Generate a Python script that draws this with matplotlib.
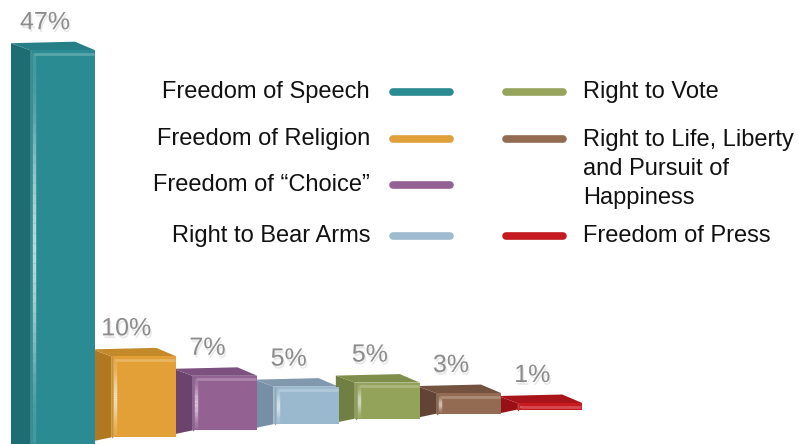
"""3D-style bar chart: most valued freedoms."""

import numpy as np
import matplotlib.pyplot as plt
import matplotlib.patheffects as pe
from matplotlib.patches import Polygon
from matplotlib.collections import LineCollection
from matplotlib.colors import to_rgb

plt.rcParams["font.family"] = ["Liberation Sans", "DejaVu Sans"]

categories = ["Freedom of Speech", "Freedom of Religion", "Freedom of \u201cChoice\u201d",
              "Right to Bear Arms", "Right to Vote",
              "Right to Life, Liberty\nand Pursuit of\nHappiness", "Freedom of Press"]
values = [47, 10, 7, 5, 5, 3, 1]

FRONT = ["#2a8b92", "#e2a037", "#946193", "#9ab9cf", "#94a35a", "#936b52", "#c8191f"]
SIDE = ["#1e6d73", "#b07820", "#6c436e", "#7590a6", "#707f42", "#634434", "#981016"]
TOP = ["#267f86", "#c48a2a", "#7c5180", "#8199ae", "#7f8e4b", "#73523f", "#a8141a"]
LEGEND = ["#2a8b92", "#e0a03a", "#946193", "#9fbbd0", "#97a55c", "#936b52", "#c41a20"]
LABEL_GRAY = "#8c8c8c"

W, H = 799, 444
fig = plt.figure(figsize=(W / 100, H / 100), dpi=100)
ax = fig.add_axes([0, 0, 1, 1])
ax.set_xlim(0, W)
ax.set_ylim(0, H)
ax.axis("off")


def lighten(c, f):
    r = np.array(to_rgb(c))
    return tuple(r + (1 - r) * f)


# --- bars (fake perspective: baseline rises and scale shrinks to the right) ---
bar_w = 65
for i, v in enumerate(values):
    x0 = 30 + 81.2 * i
    base = -1 + 8 * i - 0.35 * i ** 2
    h = v * (8.4 - 0.3 * i)
    top = base + h

    ax.bar(x0, h, width=bar_w, bottom=base, align="edge", color=FRONT[i],
           edgecolor="none", zorder=3)
    side = Polygon([(x0, base), (x0, top), (x0 - 19, top + 7), (x0 - 19, base - 4)],
                   closed=True, facecolor=SIDE[i], edgecolor="none", zorder=2)
    ax.add_patch(side)
    lid = Polygon([(x0, top), (x0 + bar_w, top), (x0 + bar_w - 20, top + 8.5),
                   (x0 - 19, top + 7)],
                  closed=True, facecolor=TOP[i], edgecolor="none", zorder=2)
    ax.add_patch(lid)

    # bevel highlights on the front face
    ys = np.linspace(base + 2, top - 3, 40)
    segs = [[(x0 + 4, ys[k]), (x0 + 4, ys[k + 1])] for k in range(len(ys) - 1)]
    t = np.linspace(0, 1, len(segs))
    alphas = 0.12 + 0.55 * np.sin(np.pi * t) ** 2
    cols = [(1, 1, 1, a) for a in alphas]
    ax.add_collection(LineCollection(segs, colors=cols, linewidths=2.5, zorder=4))
    ax.plot([x0 + 4, x0 + bar_w - 1], [top - 3.5, top - 3.5],
            color=lighten(FRONT[i], 0.22), lw=2, zorder=4, solid_capstyle="butt")
    ax.plot([x0 + 1, x0 + 1], [base, top], color=lighten(SIDE[i], 0.2), lw=1,
            zorder=4)

    ax.text(x0 + 15, top + 28, f"{v}%", ha="center", va="center", fontsize=18,
            color=LABEL_GRAY, zorder=5,
            path_effects=[pe.SimplePatchShadow(offset=(1, -2), shadow_rgbFace="#999999",
                                               alpha=0.22), pe.Normal()])

# --- legend ---
fs = 17
left_y = [352, 305, 259, 208]
for k in range(4):
    y = left_y[k]
    ax.text(370, y, categories[k], ha="right", va="center", fontsize=fs, color="#111111")
    ax.plot([393, 450], [y, y], color=LEGEND[k], lw=5.5, solid_capstyle="round")

right_y = [352, 305, 208]
for k, y in zip([4, 5, 6], right_y):
    ax.plot([506, 563], [y, y], color=LEGEND[k], lw=5.5, solid_capstyle="round")
    if "\n" in categories[k]:
        ax.text(583, y + 10, categories[k], ha="left", va="top", fontsize=fs,
                color="#111111", linespacing=1.4)
    else:
        ax.text(583, y, categories[k], ha="left", va="center", fontsize=fs,
                color="#111111")

fig.savefig("out.png", dpi=100, facecolor="white")
plt.close(fig)
